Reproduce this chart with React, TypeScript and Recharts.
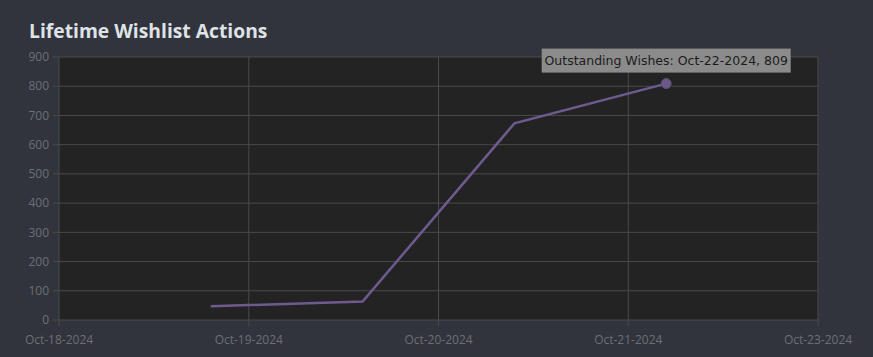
import React from 'react';
import { LineChart, Line, XAxis, YAxis, CartesianGrid } from 'recharts';

const dates = ['2024-10-19', '2024-10-20', '2024-10-21', '2024-10-22'];
const outstandingWishes = [47, 63, 673, 809];
const xTicks = [
  '2024-10-18T00:00:00Z',
  '2024-10-19T06:00:00Z',
  '2024-10-20T12:00:00Z',
  '2024-10-21T18:00:00Z',
  '2024-10-23T00:00:00Z'
];
const yTicks = [0, 100, 200, 300, 400, 500, 600, 700, 800, 900];
const seriesName = 'Outstanding Wishes';

const months = ['Jan', 'Feb', 'Mar', 'Apr', 'May', 'Jun', 'Jul', 'Aug', 'Sep', 'Oct', 'Nov', 'Dec'];

const toTime = (s: string) => Date.parse(s.length === 10 ? s + 'T00:00:00Z' : s);

function fmtDate(t: number) {
  const d = new Date(t);
  const day = String(d.getUTCDate()).padStart(2, '0');
  return `${months[d.getUTCMonth()]}-${day}-${d.getUTCFullYear()}`;
}

const data = dates.map((d, i) => ({ t: toTime(d), wishes: outstandingWishes[i] }));
const tickTimes = xTicks.map(toTime);
const hoverIndex = data.length - 1;

const LINE = '#6f5a90';

// the hovered point in the screenshot: dot plus tooltip box above it
function HoverDot(props: any) {
  const { cx, cy, index, payload } = props;
  if (index !== hoverIndex) return <g key={`d${index}`} />;
  const text = `${seriesName}: ${fmtDate(payload.t)}, ${payload.wishes}`;
  const w = 249;
  return (
    <g key={`d${index}`}>
      <circle cx={cx} cy={cy} r={5} fill="#6a5986" stroke="#5c4c78" strokeWidth={1} />
      <rect x={cx - w / 2} y={cy - 35} width={w} height={24} fill="#8b8b8b" />
      <text
        x={cx}
        y={cy - 18.5}
        textAnchor="middle"
        fontFamily="DejaVu Sans"
        fontSize={12.5}
        fill="#1c1c1c"
      >
        {text}
      </text>
    </g>
  );
}

export default function App() {
  return (
    <div style={{ position: 'relative', width: 873, height: 357, background: '#31343c', overflow: 'hidden' }}>
      <style>{'body{margin:0;background:#31343c}'}</style>
      <div
        style={{
          position: 'absolute',
          left: 29,
          top: 18,
          fontFamily: '"Open Sans", sans-serif',
          fontWeight: 700,
          fontSize: 19.3,
          color: '#dfe2e6',
          lineHeight: '26px',
          zIndex: 1
        }}
      >
        Lifetime Wishlist Actions
      </div>
      <LineChart width={873} height={357} data={data} margin={{ top: 57, right: 55, bottom: 7, left: 0 }}>
        <CartesianGrid stroke="#4a4a4a" fill="#232323" />
        <XAxis
          dataKey="t"
          type="number"
          scale="time"
          domain={[tickTimes[0], tickTimes[tickTimes.length - 1]]}
          ticks={tickTimes}
          tickFormatter={fmtDate}
          height={30}
          tickSize={6}
          tickMargin={9}
          axisLine={false}
          tickLine={{ stroke: '#4a4a4a' }}
          tick={{ fill: '#6c6f75', fontSize: 12, fontFamily: '"Open Sans", sans-serif' }}
          interval={0}
        />
        <YAxis
          domain={[0, 900]}
          ticks={yTicks}
          width={59}
          tickSize={6}
          tickMargin={4}
          axisLine={false}
          tickLine={{ stroke: '#4a4a4a' }}
          tick={{ fill: '#6c6f75', fontSize: 12, fontFamily: '"Open Sans", sans-serif' }}
          interval={0}
        />
        <Line
          type="linear"
          dataKey="wishes"
          name={seriesName}
          stroke={LINE}
          strokeWidth={2.5}
          dot={HoverDot}
          activeDot={false}
          isAnimationActive={false}
        />
      </LineChart>
    </div>
  );
}
